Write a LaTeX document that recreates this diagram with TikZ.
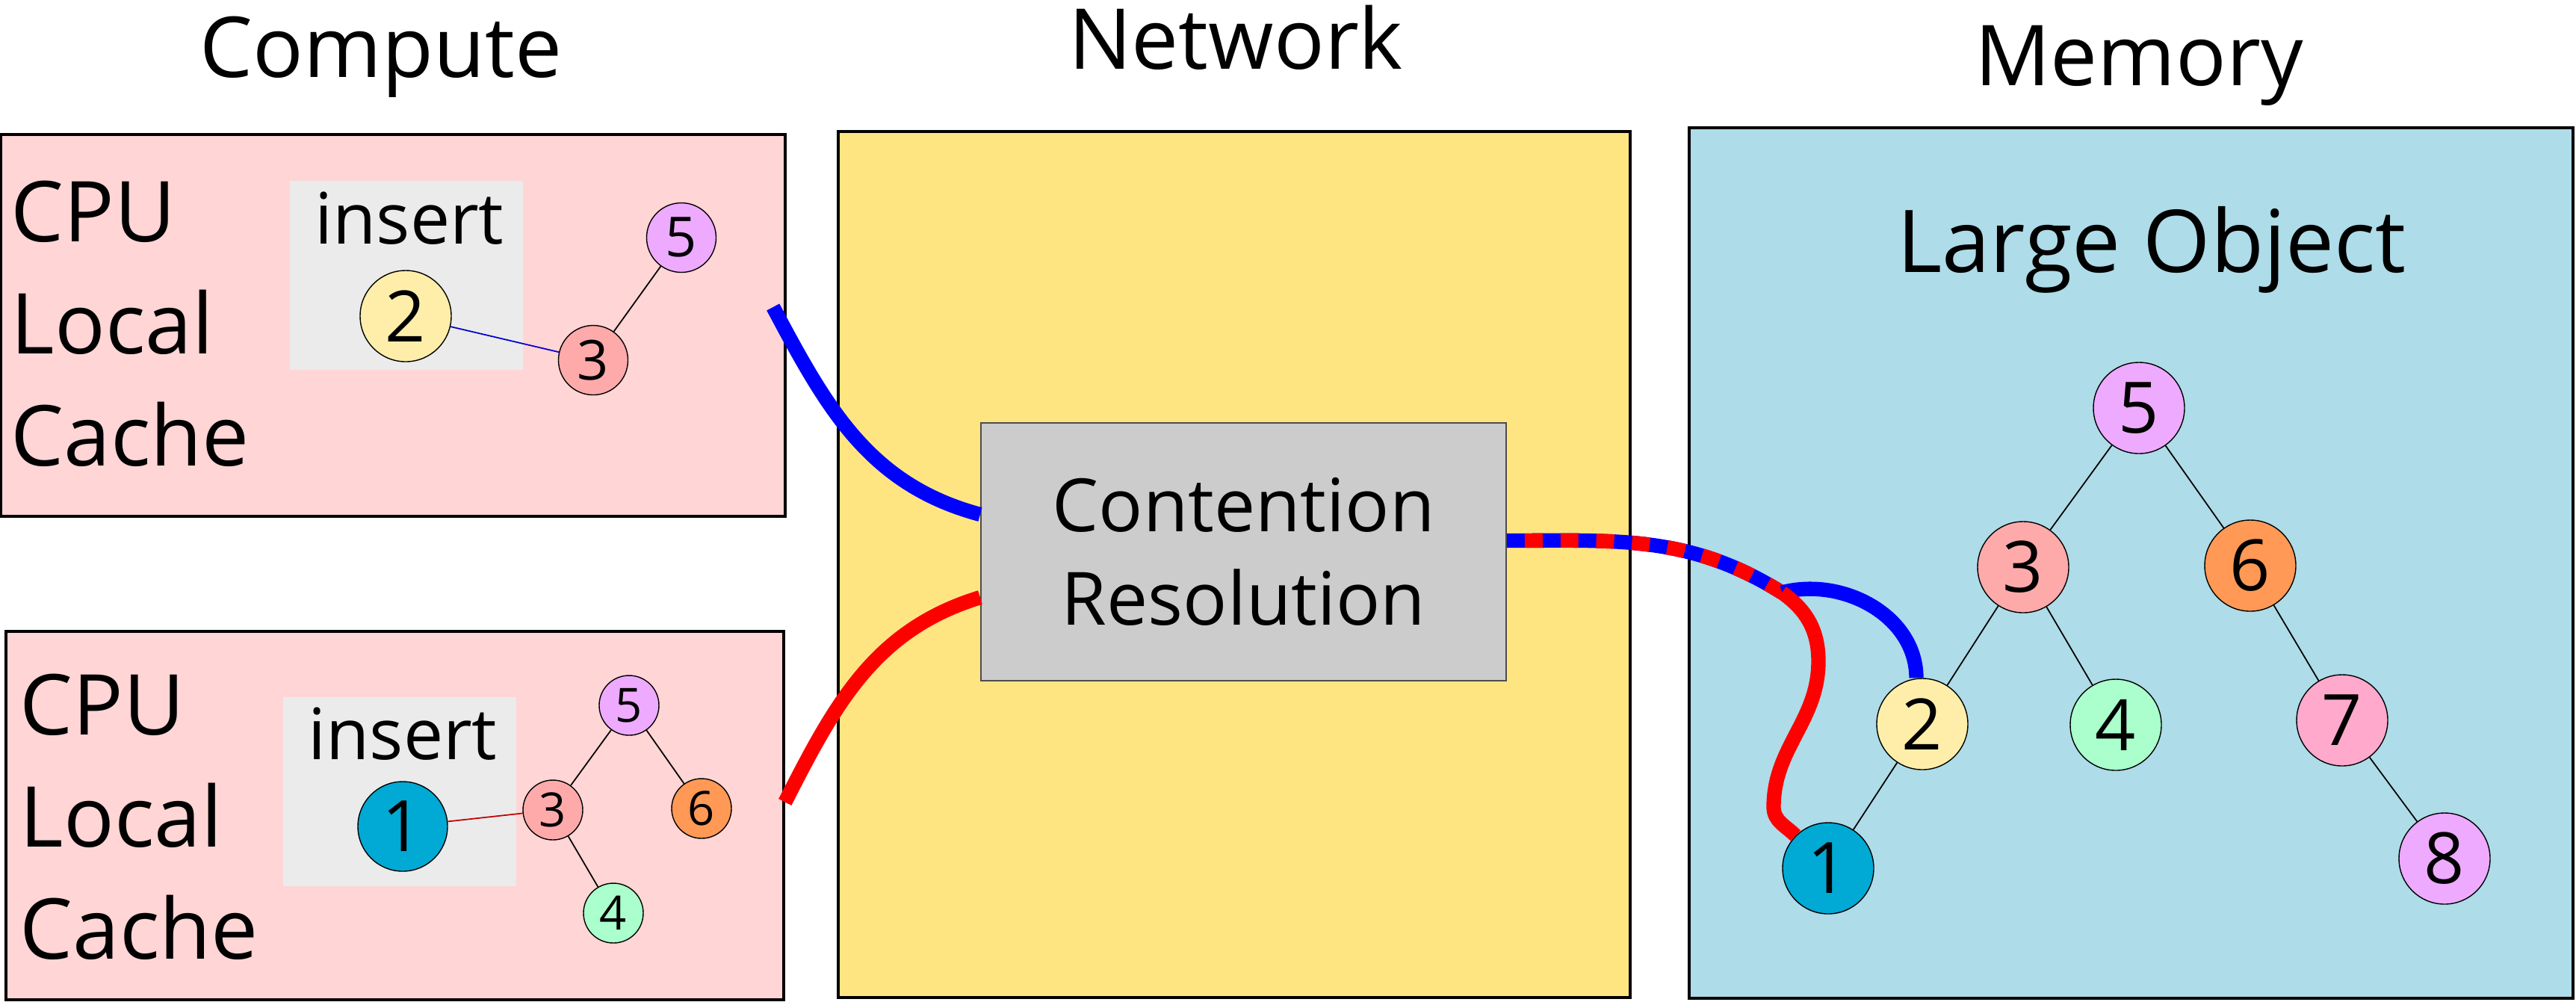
\documentclass[tikz,border=0pt]{standalone}
\usepackage{fontspec}
\setmainfont{Open Sans}
\usepackage{tikz}

\definecolor{cachepink}{HTML}{FFD5D5}
\definecolor{netyellow}{HTML}{FFE582}
\definecolor{memblue}{HTML}{AEDCE8}
\definecolor{insertgray}{HTML}{EBEBEB}
\definecolor{resgray}{HTML}{CCCCCC}
\definecolor{kviolet}{HTML}{EEAAFF}
\definecolor{kred}{HTML}{FFAAAA}
\definecolor{korange}{HTML}{FF9955}
\definecolor{kyellow}{HTML}{FFEEAA}
\definecolor{kgreen}{HTML}{AAFFCC}
\definecolor{kpink}{HTML}{FFAACC}
\definecolor{kcyan}{HTML}{00AAD4}

\tikzstyle{heading} = [anchor=base, inner sep=0pt, font=\fontsize{32}{36}\selectfont]
\tikzstyle{cachebox} = [rectangle, draw=black, line width=1pt, fill=cachepink, inner sep=0pt]
\tikzstyle{insertbox} = [rectangle, fill=insertgray, inner sep=0pt, minimum width=3.12cm, minimum height=2.53cm]
\tikzstyle{inserttext} = [anchor=base, inner sep=0pt, font=\fontsize{27}{30}\selectfont]
\tikzstyle{cputext} = [anchor=north west, align=left, inner sep=0pt, font=\fontsize{32}{42.7}\selectfont]
\tikzstyle{treenode} = [circle, draw=black, line width=0.4pt, inner sep=0pt, minimum size=1.22cm, font=\fontsize{27}{30}\selectfont]
\tikzstyle{smallnode} = [treenode, minimum size=0.93cm, font=\fontsize{21}{24}\selectfont]
\tikzstyle{tinynode} = [treenode, minimum size=0.80cm, font=\fontsize{18}{20}\selectfont]
\tikzstyle{treeedge} = [line width=0.5pt]
\tikzstyle{bluewire} = [line width=5.5pt, blue]
\tikzstyle{redwire} = [line width=5.5pt, red]

\begin{document}
\begin{tikzpicture}
        \useasboundingbox (0,0) rectangle (34.48,-13.44);

        % Judul kolom
        \node (compute) [heading] at (5.10,-1.03) {Compute};
        \node (network) [heading] at (16.54,-0.92) {Network};
        \node (memory) [heading] at (28.63,-1.14) {Memory};

        % Cache atas
        \node (topcache) [cachebox, minimum width=10.50cm, minimum height=5.11cm] at (5.26,-4.355) {};
        \node (toplabel) [cputext] at (0.14,-2.41) {CPU\\Local\\Cache};
        \node (topins) [insertbox] at (5.44,-3.685) {};
        \node (topinstext) [inserttext] at (5.48,-3.26) {insert};
        \node (a2) [treenode, fill=kyellow] at (5.43,-4.23) {2};
        \node (a3) [smallnode, fill=kred] at (7.94,-4.82) {3};
        \node (a5) [smallnode, fill=kviolet] at (9.12,-3.18) {5};
        \draw [treeedge, blue!80!black] (a2) -- (a3);
        \draw [treeedge] (a3) -- (a5);

        % Cache bawah
        \node (botcache) [cachebox, minimum width=10.41cm, minimum height=4.93cm] at (5.285,-10.915) {};
        \node (botlabel) [cputext] at (0.26,-9.01) {CPU\\Local\\Cache};
        \node (botins) [insertbox] at (5.35,-10.595) {};
        \node (botinstext) [inserttext] at (5.39,-10.16) {insert};
        \node (b1) [treenode, fill=kcyan, minimum size=1.20cm] at (5.39,-11.06) {1};
        \node (b3) [tinynode, fill=kred] at (7.40,-10.84) {3};
        \node (b5) [tinynode, fill=kviolet] at (8.42,-9.44) {5};
        \node (b6) [tinynode, fill=korange] at (9.39,-10.82) {6};
        \node (b4) [tinynode, fill=kgreen] at (8.21,-12.22) {4};
        \draw [treeedge, red!75!black] (b1) -- (b3);
        \draw [treeedge] (b5) -- (b3);
        \draw [treeedge] (b5) -- (b6);
        \draw [treeedge] (b3) -- (b4);

        % Jaringan
        \node (netbox) [rectangle, draw=black, line width=1pt, fill=netyellow, minimum width=10.60cm, minimum height=11.59cm] at (16.52,-7.555) {};
        \node (contention) [rectangle, draw=black!70, line width=0.6pt, fill=resgray, minimum width=7.03cm, minimum height=3.45cm, align=center, font=\fontsize{28}{35.6}\selectfont] at (16.645,-7.385) {Contention\\Resolution};

        % Memori
        \node (membox) [rectangle, draw=black, line width=1pt, fill=memblue, minimum width=11.83cm, minimum height=11.65cm] at (28.525,-7.535) {};
        \node (largeobj) [heading, font=\fontsize{33}{36}\selectfont] at (28.80,-3.64) {Large Object};
        \node (m5) [treenode, fill=kviolet] at (28.63,-5.46) {5};
        \node (m3) [treenode, fill=kred] at (27.08,-7.59) {3};
        \node (m6) [treenode, fill=korange] at (30.12,-7.57) {6};
        \node (m2) [treenode, fill=kyellow] at (25.73,-9.69) {2};
        \node (m4) [treenode, fill=kgreen] at (28.32,-9.70) {4};
        \node (m7) [treenode, fill=kpink] at (31.35,-9.64) {7};
        \node (m1) [treenode, fill=kcyan] at (24.47,-11.62) {1};
        \node (m8) [treenode, fill=kviolet] at (32.72,-11.49) {8};
        \draw [treeedge] (m5) -- (m3);
        \draw [treeedge] (m5) -- (m6);
        \draw [treeedge] (m3) -- (m2);
        \draw [treeedge] (m3) -- (m4);
        \draw [treeedge] (m6) -- (m7);
        \draw [treeedge] (m2) -- (m1);
        \draw [treeedge] (m7) -- (m8);

        % Kabel
        \coordinate (split) at (23.85,-7.93);
        \draw [bluewire] ([xshift=-0.18cm,yshift=0.245cm]topcache.east) to[out=-62,in=165] ([yshift=0.5cm]contention.west);
        \draw [redwire] ([yshift=0.18cm]botcache.east) to[out=63,in=-163] ([yshift=-0.61cm]contention.west);
        \draw [bluewire] ([yshift=0.15cm]contention.east) to[out=0,in=148] (split);
        \draw [redwire, dash pattern=on 6.8pt off 6.8pt, dash phase=6.8pt] ([yshift=0.15cm]contention.east) to[out=0,in=148] (split);
        \draw [bluewire] (split) to[out=15,in=90] ([xshift=-0.08cm]m2.north);
        \draw [redwire] (split) to[out=-35,in=90] (24.34,-8.85) to[out=-90,in=90] (23.74,-10.8) to[out=-90,in=135] (m1.135);
    \end{tikzpicture}
\end{document}
